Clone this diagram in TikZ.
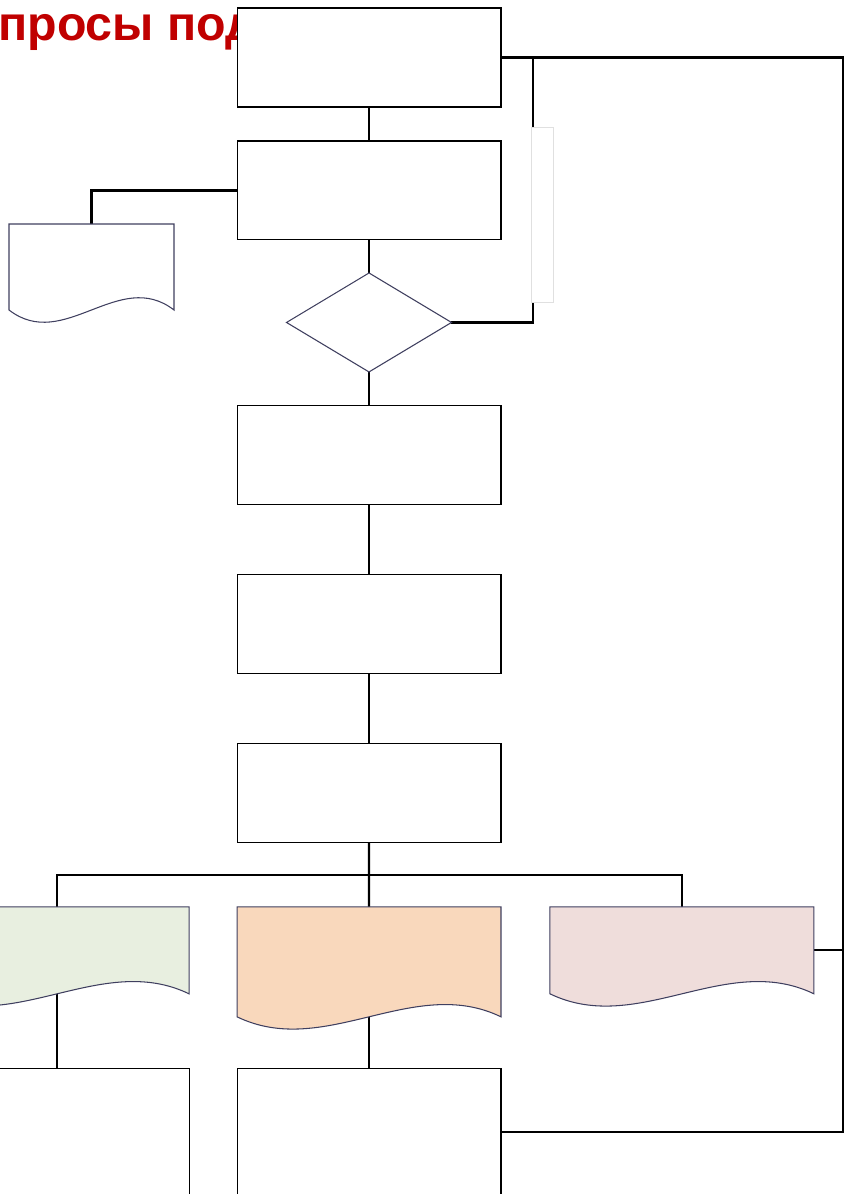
\documentclass[tikz,border=0pt]{standalone}
\usepackage{fontspec}
\usepackage{xcolor}
\usetikzlibrary{positioning, calc, shapes.geometric}
\newfontfamily\titlefont{Liberation Sans}
\definecolor{heading}{HTML}{C00000}
\definecolor{edge}{HTML}{3F3F5F}
\definecolor{sage}{HTML}{E8EFE0}
\definecolor{peach}{HTML}{F9D8BC}
\definecolor{blush}{HTML}{EFDDDB}
\pgfdeclarelayer{background}
\pgfsetlayers{background,main}

% outline of a document shape over an invisible node: flat top, wavy bottom
\newcommand\docoutline[2]{%
  \filldraw[draw=edge, line width=0.6pt, fill=#2] (#1.north west) -- (#1.north east) -- (#1.south east)
    .. controls ($(#1.south east)!0.333!(#1.south west)+(0,0.85cm)$)
    and ($(#1.south east)!0.667!(#1.south west)-(0,0.85cm)$) .. (#1.south west) -- cycle;}

\begin{document}
\begin{tikzpicture}[x=0.02cm, y=-0.02cm,
    box/.style={draw=black, line width=0.6pt, fill=white, minimum width=5.28cm, minimum height=1.98cm, inner sep=0pt, outer sep=0pt},
    choice/.style={diamond, draw=edge, line width=0.6pt, fill=white, minimum width=3.3cm, minimum height=1.98cm, inner sep=0pt, outer sep=0pt},
    docbox/.style={minimum width=5.28cm, inner sep=0pt, outer sep=0pt},
    link/.style={draw=black, line width=1.3pt}]

  \useasboundingbox (0,0) rectangle (845,1194);
  \clip (0,0) rectangle (845,1194);

  % clipped heading, partly hidden by the first box
  \node[anchor=base west, inner sep=0pt, text=heading, font=\titlefont\bfseries\fontsize{27.5}{32}\selectfont] (title) at (-2,40) {просы под};

  % main column
  \node[box] (b1) at (369,57.5) {};
  \node[box, below=0.68cm of b1] (b2) {};
  \node[choice, below=0.66cm of b2] (dia) {};
  \node[box, below=0.68cm of dia] (b3) {};
  \node[box, below=1.4cm of b3] (b4) {};
  \node[box, below=1.4cm of b4] (b5) {};

  % side items
  \node[docbox, minimum width=3.3cm, minimum height=1.72cm] (ldoc) at (91.5,267) {};
  \docoutline{ldoc}{white}
  \node[draw=black!12, fill=white, line width=0.5pt, minimum width=0.44cm, minimum height=3.5cm, inner sep=0pt] (slot) at (542,214.5) {};

  % three documents
  \node[docbox, minimum height=2.2cm, below=1.28cm of b5] (odoc) {};
  \docoutline{odoc}{peach}
  \node[docbox, minimum height=1.74cm, left=0.96cm of odoc.north west, anchor=north east] (gdoc) {};
  \docoutline{gdoc}{sage}
  \node[docbox, minimum height=1.74cm, right=0.98cm of odoc.north east, anchor=north west] (pdoc) {};
  \docoutline{pdoc}{blush}

  % bottom row
  \node[box, minimum height=2.54cm, below=1.04cm of odoc] (b7) {};
  \node[box, minimum height=2.54cm, left=0.96cm of b7.north west, anchor=north east] (b6) {};

  \coordinate (rail) at (843,0);
  \coordinate (tap) at (533,0);
  \coordinate (bus) at ($(b5.south)!0.5!(odoc.north)$);

  % connectors, kept behind the shapes
  \begin{pgfonlayer}{background}
    \draw[link] (b1.south) -- (b2.north);
    \draw[link] (b2.south) -- (dia.north);
    \draw[link] (dia.south) -- (b3.north);
    \draw[link] (b3.south) -- (b4.north);
    \draw[link] (b4.south) -- (b5.north);
    \draw[link] (b2.west) -| (ldoc.north);
    \draw[link] (b1.east) -- (b1.east -| rail) -- (b7.east -| rail) -- (b7.east);
    \draw[link] (b1.east -| tap) -- (slot.north -| tap);
    \draw[link] (slot.south -| tap) |- (dia.east);
    \draw[link] (b5.south) -- (bus);
    \draw[link] (gdoc.north) |- (bus) -| (pdoc.north);
    \draw[link] (bus) -- (odoc.north);
    \draw[link] (pdoc.east) -- (pdoc.east -| rail);
    \draw[link] (gdoc.south) -- (b6.north);
    \draw[link] (odoc.south) -- (b7.north);
  \end{pgfonlayer}
\end{tikzpicture}
\end{document}
